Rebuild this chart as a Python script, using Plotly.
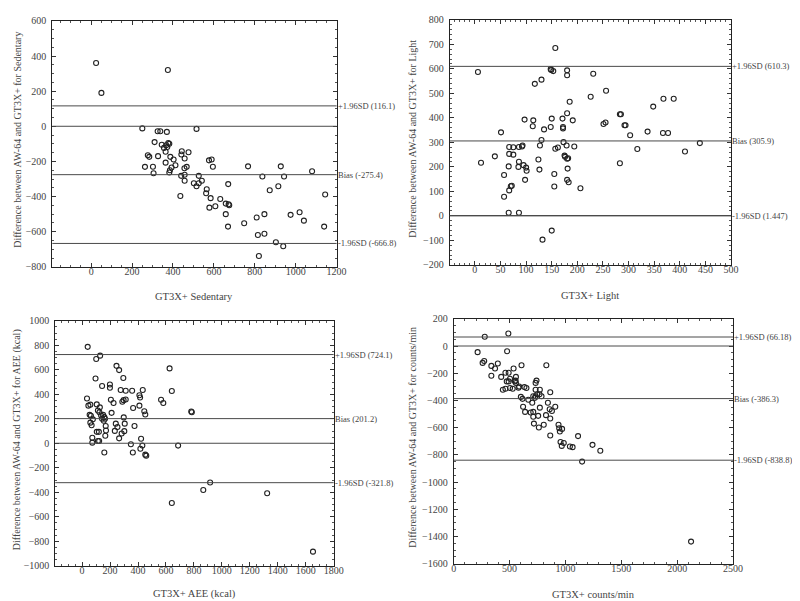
import plotly.graph_objects as go

# ---------------- DATA ----------------
# Panel 1: Sedentary
sed_x = [24, 50, 375, 250, 515, 325, 338, 370, 310, 345, 356, 367, 377, 382, 372, 364,
         277, 284, 327, 387, 403, 364, 412, 393, 263, 302, 385, 382, 305, 443, 441, 457,
         467, 456, 476, 440, 457, 457, 436, 576, 589, 595, 502, 515, 526, 541, 526, 565,
         562, 584, 578, 607, 631, 658, 658, 672, 675, 669, 670, 748, 767, 809, 815, 820,
         837, 847, 847, 873, 903, 915, 927, 939, 943, 975, 1019, 1040, 1080, 1144, 1139]
sed_y = [360, 190, 320, -12, -15, -28, -28, -32, -90, -105, -123, -108, -95, -100, -118, -145,
         -165, -174, -170, -174, -189, -207, -222, -235, -231, -230, -250, -263, -267, -142, -161, -183,
         -231, -239, -148, -282, -276, -310, -397, -194, -189, -230, -324, -341, -324, -310, -282, -358,
         -381, -409, -463, -455, -414, -440, -500, -444, -449, -571, -329, -552, -228, -519, -619, -738,
         -286, -500, -612, -364, -660, -341, -228, -683, -286, -504, -489, -537, -256, -388, -571]

# Panel 2: Light
lig_x = [6, 12, 157, 148, 149, 153, 180, 180, 231, 117, 130, 256, 226, 185, 348, 368, 388,
         283, 285, 180, 97, 114, 150, 171, 191, 113, 135, 148, 172, 172, 251, 255, 292, 294,
         51, 337, 367, 377, 130, 303, 173, 439, 410, 317, 67, 75, 86, 92, 93, 127, 157, 162,
         179, 194, 39, 67, 75, 86, 95, 100, 101, 124, 126, 175, 176, 180, 182, 181, 66, 85,
         57, 98, 155, 180, 183, 155, 206, 70, 72, 67, 283, 57, 66, 86, 150, 132]
lig_y = [587, 217, 685, 599, 595, 591, 594, 574, 580, 539, 556, 511, 486, 466, 446, 478, 478,
         415, 415, 419, 393, 390, 397, 397, 390, 366, 353, 363, 363, 357, 375, 381, 370, 370,
         341, 344, 338, 338, 310, 329, 301, 297, 263, 273, 281, 280, 281, 283, 287, 287, 274, 279,
         287, 283, 243, 253, 250, 221, 207, 197, 184, 230, 189, 246, 241, 233, 235, 193, 202, 200,
         167, 147, 171, 147, 137, 120, 113, 121, 123, 104, 215, 78, 13, 13, -60, -97]

# Panel 3: AEE (kcal)
aee_x = [40, 101, 129, 96, 143, 246, 265, 295, 199, 199, 206, 225, 276, 312, 288, 297, 312,
         358, 434, 410, 415, 410, 365, 445, 452, 565, 581, 626, 642, 781, 785, 35, 45, 59,
         105, 127, 54, 63, 113, 124, 136, 150, 159, 164, 143, 155, 77, 59, 68, 105, 120, 169,
         171, 73, 73, 113, 122, 166, 211, 241, 253, 234, 265, 283, 302, 298, 305, 375, 349,
         363, 159, 422, 431, 417, 452, 459, 687, 916, 867, 642, 1324, 1652]
aee_y = [787, 688, 715, 528, 467, 632, 597, 533, 480, 453, 355, 328, 435, 429, 339, 352, 357,
         429, 435, 392, 373, 307, 288, 261, 235, 355, 328, 611, 427, 259, 253, 365, 307, 315,
         317, 293, 232, 224, 267, 253, 227, 232, 213, 200, 200, 184, 195, 168, 147, 93, 93, 141,
         104, 45, 5, 19, 19, 61, 248, 160, 133, 101, 40, 80, 99, 211, 160, 141, -8,
         -75, -75, 37, -19, -45, -93, -101, -19, -320, -381, -488, -408, -885]

# Panel 4: counts/min
cpm_x = [278, 489, 478, 214, 259, 273, 395, 337, 370, 337, 536, 607, 829, 463, 492, 425,
         557, 554, 475, 492, 504, 440, 463, 504, 548, 557, 528, 586, 580, 633, 651, 741, 733,
         733, 747, 771, 768, 786, 733, 727, 601, 616, 668, 712, 703, 864, 843, 621, 639, 771,
         909, 859, 879, 689, 712, 712, 826, 864, 756, 806, 718, 762, 938, 944, 970, 950, 864,
         1113, 956, 967, 985, 1040, 1064, 1242, 1312, 1149, 2124]
cpm_y = [68, 92, -38, -45, -124, -110, -128, -146, -165, -218, -165, -141, -141, -196, -196, -227,
         -227, -254, -260, -260, -241, -321, -314, -309, -260, -272, -314, -297, -306, -302, -309, -254, -271,
         -321, -354, -321, -354, -369, -369, -381, -374, -388, -395, -369, -417, -340, -417, -446, -484, -453,
         -446, -465, -477, -489, -484, -520, -508, -532, -513, -578, -570, -599, -578, -604, -609, -628, -657,
         -662, -705, -734, -712, -738, -743, -726, -770, -849, -1437]

# Limits of agreement: [+1.96SD, Bias, -1.96SD]
sed_lims = [116.1, -275.4, -666.8]
lig_lims = [610.3, 305.9, 1.447]
aee_lims = [724.1, 201.2, -321.8]
cpm_lims = [66.18, -386.3, -838.8]
lim_names = ["+1.96SD", "Bias", "-1.96SD"]

x_titles = ["GT3X+ Sedentary", "GT3X+ Light", "GT3X+ AEE (kcal)", "GT3X+ counts/min"]
y_titles = ["Difference between AW-64 and GT3X+ for Sedentary",
            "Difference between AW-64 and GT3X+ for Light",
            "Difference between AW-64 and GT3X+ for AEE (kcal)",
            "Difference between AW-64 and GT3X+ for counts/min"]

# ---------------- LAYOUT ----------------
W, H = 800, 601
FONT = "Liberation Serif"
TXT = "#444444"
LINE = "#4a4a4a"

panels = [
    dict(x=sed_x, y=sed_y, lims=sed_lims, zero=True,
         px=(42, 331), py=(7, 258), xr=[-190, 1200], yr=[-800, 600], dx=200, dy=200,
         ytx=7, xty=288),
    dict(x=lig_x, y=lig_y, lims=lig_lims, zero=True,
         px=(446, 732), py=(6, 256), xr=[-49, 500], yr=[-200, 800], dx=50, dy=100,
         ytx=408, xty=287),
    dict(x=aee_x, y=aee_y, lims=aee_lims, zero=True,
         px=(45, 328), py=(313, 563), xr=[-192, 1800], yr=[-1000, 1000], dx=200, dy=200,
         ytx=6, xty=592),
    dict(x=cpm_x, y=cpm_y, lims=cpm_lims, zero=True,
         px=(450, 734), py=(311, 561), xr=[0, 2500], yr=[-1600, 200], dx=500, dy=200,
         ytx=408, xty=592),
]

fig = go.Figure()
shapes = []
annotations = []
layout = dict(width=W, height=H, margin=dict(l=0, r=0, t=0, b=0),
              paper_bgcolor="white", plot_bgcolor="white", showlegend=False,
              font=dict(family=FONT, size=10, color=TXT))

for i, p in enumerate(panels):
    n = "" if i == 0 else str(i + 1)
    xa, ya = "x" + n, "y" + n
    fig.add_trace(go.Scatter(
        x=p["x"], y=p["y"], mode="markers", xaxis=xa, yaxis=ya,
        marker=dict(symbol="circle-open", size=5, color="#222222", line=dict(width=1.1, color="#222222")),
        hoverinfo="skip"))
    xd = [p["px"][0] / W, p["px"][1] / W]
    yd = [1 - p["py"][1] / H, 1 - p["py"][0] / H]
    common = dict(showline=True, linecolor="#222222", linewidth=1, mirror="allticks",
                  ticks="inside", ticklen=4, tickcolor="#333333", showgrid=False, zeroline=False,
                  tickfont=dict(family=FONT, size=10, color=TXT),
                  minor=dict(ticks="inside", ticklen=2, tickcolor="#555555", showgrid=False))
    layout["xaxis" + n] = dict(domain=xd, range=p["xr"], dtick=p["dx"], tick0=0,
                               anchor=ya, ticklabelstandoff=-5, **common)
    layout["yaxis" + n] = dict(domain=yd, range=p["yr"], dtick=p["dy"], tick0=0,
                               anchor=xa, ticklabelstandoff=3, **common)
    # limit lines
    vals = list(p["lims"])
    if p["zero"]:
        shapes.append(dict(type="line", xref=xa + " domain", yref=ya, x0=0, x1=1,
                           y0=0, y1=0, line=dict(color=LINE, width=1)))
    for name, v in zip(lim_names, vals):
        shapes.append(dict(type="line", xref=xa + " domain", yref=ya, x0=0, x1=1,
                           y0=v, y1=v, line=dict(color=LINE, width=1)))
        annotations.append(dict(xref=xa + " domain", yref=ya, x=1.0, y=v, xshift=-1,
                                xanchor="left", yanchor="middle", showarrow=False,
                                text=f"{name} ({v:g})",
                                font=dict(family=FONT, size=8.5, color=TXT)))
    # axis titles
    annotations.append(dict(xref="paper", yref="paper",
                            x=(p["px"][0] + p["px"][1]) / 2 / W, y=1 - p["xty"] / H,
                            xanchor="center", yanchor="middle", showarrow=False,
                            text=x_titles[i], font=dict(family=FONT, size=10.5, color=TXT)))
    annotations.append(dict(xref="paper", yref="paper",
                            x=p["ytx"] / W, y=1 - ((p["py"][0] + p["py"][1]) / 2 - 4) / H,
                            xanchor="center", yanchor="middle", showarrow=False, textangle=-90,
                            text=y_titles[i], font=dict(family=FONT, size=10, color=TXT)))

layout["shapes"] = shapes
layout["annotations"] = annotations
fig.update_layout(**layout)
fig.write_html("out.html")
